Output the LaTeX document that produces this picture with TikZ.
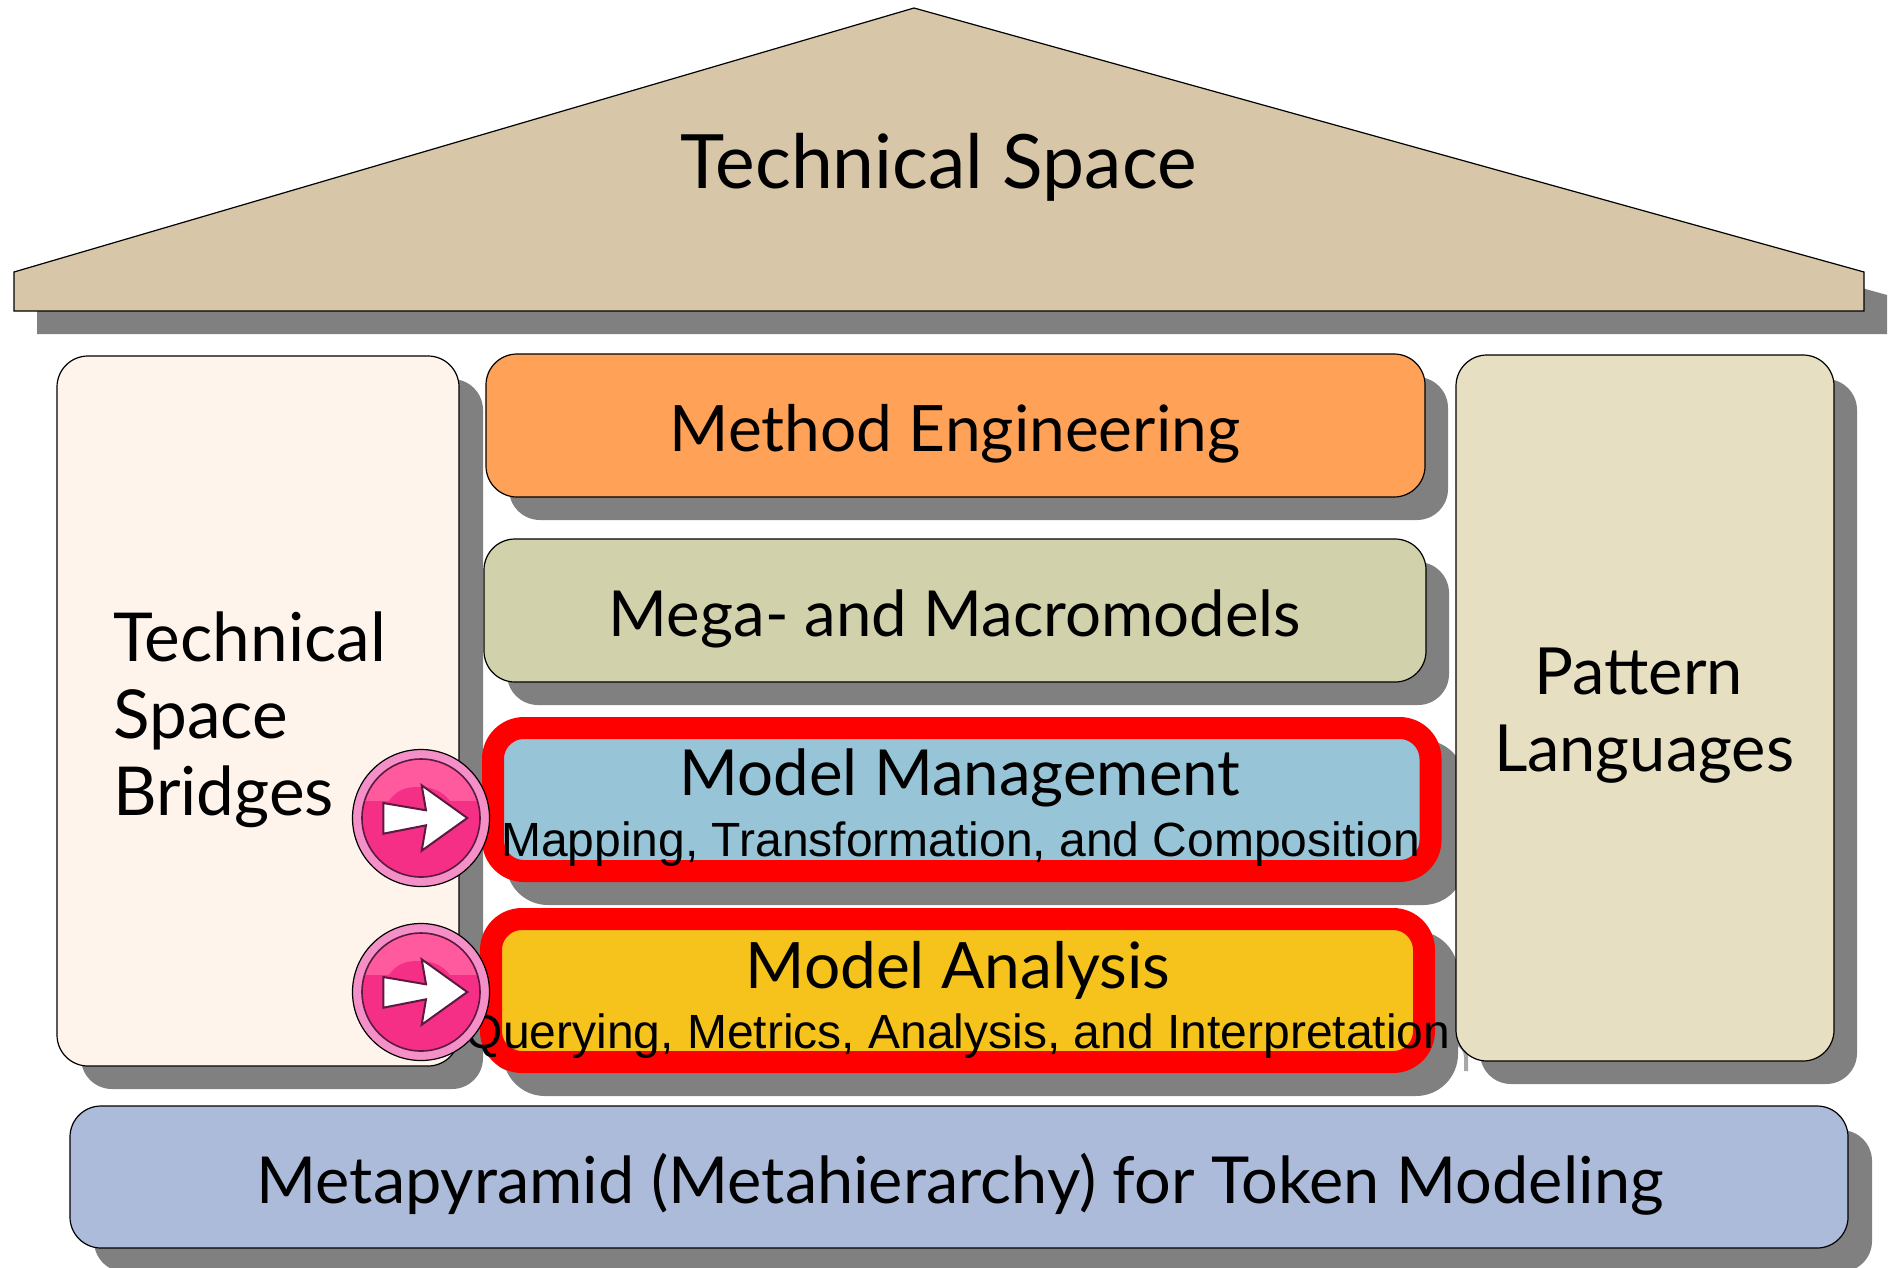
\documentclass[tikz,border=0pt]{standalone}
\usepackage{fontspec}
\setmainfont{Lato}
\newfontfamily\arialf{Liberation Sans}
\usetikzlibrary{calc}
\definecolor{shadowc}{HTML}{808080}
\definecolor{roofc}{HTML}{D7C6A8}
\definecolor{bridgec}{HTML}{FFF4EB}
\definecolor{methodc}{HTML}{FFA257}
\definecolor{megac}{HTML}{D1D2AB}
\definecolor{mgmtc}{HTML}{97C5D7}
\definecolor{analysisc}{HTML}{F6C31D}
\definecolor{patternc}{HTML}{E6DFC2}
\definecolor{metac}{HTML}{ADBBDA}
\definecolor{pinkring}{HTML}{F58FC8}
\definecolor{pinkdark}{HTML}{F62F86}
\definecolor{pinklight}{HTML}{FF5A9E}
\definecolor{pinkline}{HTML}{5B1A40}
\definecolor{stubc}{HTML}{A8A8A8}
\newcommand{\bigtxt}[1]{\fontsize{#1}{#1}\selectfont}
\tikzset{
  x=1pt,y=-1pt,
  panel/.style={rectangle,rounded corners=31pt,inner sep=0pt,outer sep=0pt,line width=1.2pt,draw=black},
  shadowbox/.style={rectangle,rounded corners=31pt,inner sep=0pt,outer sep=0pt,fill=shadowc},
  bigshadow/.style={shadowbox,rounded corners=42pt},
  redbox/.style={panel,draw=red,line width=22pt},
  title/.style={inner sep=0pt,anchor=base,font=\bigtxt{64}},
  subtitle/.style={inner sep=0pt,anchor=base,font=\arialf\bigtxt{48}},
  pics/btn/.style={code={
    \node[circle,minimum size=137pt,inner sep=0pt,fill=pinkring,draw=black,line width=1.2pt] (#1) at (0,0) {};
    \begin{scope}
      \clip (0,0) circle (59pt);
      \fill[pinkdark] (-60,-60) rectangle (60,60);
      \fill[pinklight] (-60,-60) rectangle (60,-17);
      \fill[pinkdark] (-32,-17) .. controls (-22,-32) and (-8,-31) .. (0,-31) .. controls (10,-31) and (22,-27) .. (29,-17) -- cycle;
    \end{scope}
    \draw[pinkline,line width=1.6pt] (0,0) circle (59pt);
    \draw[pinkline,line width=2pt,fill=white,line join=miter]
      (-37.7,-15) -- (5,-7.7) -- (0.7,-32.7) -- (46.3,0) -- (0.7,32.7) -- (5,7.3) -- (-37.7,15.7) -- cycle;
  }}
}
\newcommand{\rbox}[7][panel]{% style, name, x1,y1,x2,y2, fill
  \node[#1,fill=#7,minimum width=#5pt-#3pt,minimum height=#6pt-#4pt] (#2) at ({(#3+#5)/2},{(#4+#6)/2}) {};}
\newcommand{\shbox}[6][shadowbox]{% style, name, x1,y1,x2,y2
  \node[#1,minimum width=#5pt-#3pt,minimum height=#6pt-#4pt] (#2) at ({(#3+#5)/2},{(#4+#6)/2}) {};}
\begin{document}
\begin{tikzpicture}
\useasboundingbox (0,0) rectangle (1889,1267);
\clip (0,0) rectangle (1889,1267);
% roof
\fill[shadowc] (37,334) -- (37,295) -- (937,31) -- (1887,295) -- (1887,334) -- cycle;
\draw[fill=roofc,line width=1.2pt,line join=miter] (14,311) -- (14,272) -- (914,8) -- (1864,272) -- (1864,311) -- cycle;
% left bridge column
\shbox{bridgeS}{81}{379}{483}{1089}
\rbox{bridge}{57}{356}{459}{1066}{bridgec}
% method
\shbox{methodS}{509}{377}{1448}{520}
\rbox{method}{486}{354}{1425}{497}{methodc}
% mega
\shbox{megaS}{507}{562}{1449}{705}
\rbox{mega}{484}{539}{1426}{682}{megac}
% management
\shbox[bigshadow]{mgmtS}{506}{740}{1465}{905}
\rbox[redbox]{mgmt}{493}{728}{1430.5}{871}{mgmtc}
% hidden stubs
\draw[stubc,line width=4pt] (1456,1043) .. controls (1462,1046) and (1466,1050) .. (1466,1057) -- (1466,1071);
\fill[shadowc] (490,1040) -- (490,1050) .. controls (492,1062) and (500,1071) .. (512,1071) -- (530,1060) -- (510,1040) -- cycle;
% analysis
\shbox[bigshadow]{analysisS}{503}{931}{1458}{1096}
\rbox[redbox]{analysis}{491}{919}{1424}{1062}{analysisc}
% pattern
\shbox{patternS}{1480}{379}{1857}{1084}
\rbox{pattern}{1456}{355}{1834}{1061}{patternc}
% meta
\shbox{metaS}{94}{1130}{1872}{1272}
\rbox{meta}{70}{1106}{1848}{1248}{metac}
% text
\node[title,font=\bigtxt{75}] (tRoof) at (938.5,188) {Technical Space};
\node[title] (tMethod) at (955,451) {Method Engineering};
\node[title,font=\bigtxt{63.5}] (tMega) at (955,636) {Mega- and Macromodels};
\node[title,font=\bigtxt{63.5}] (tMgmt) at (960,795) {Model Management};
\node[subtitle] (tMgmtSub) at (960.5,856) {Mapping, Transformation, and Composition};
\node[title] (tAna) at (958,988) {Model Analysis};
\node[subtitle] (tAnaSub) at (958,1048) {Querying, Metrics, Analysis, and Interpretation};
\node[title,font=\bigtxt{64.8}] (tMeta) at (960,1203) {Metapyramid (Metahierarchy) for Token Modeling};
\node[inner sep=0pt,anchor=west,align=left,font=\fontsize{67.5}{77}\selectfont] (tBridge) at (113,719.5) {Technical\\Space\\Bridges};
\node[inner sep=0pt,anchor=center,align=center,font=\fontsize{65}{77}\selectfont] (tPattern) at (1644,716) {Pattern\hspace*{10pt}\\Languages};
% buttons
\pic at (421,818) {btn=b1};
\pic at (421,992) {btn=b2};
\end{tikzpicture}
\end{document}
